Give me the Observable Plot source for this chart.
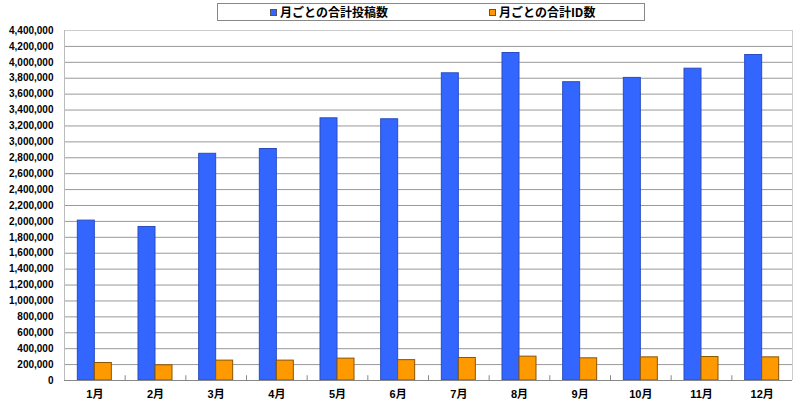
<!DOCTYPE html>
<html><head><meta charset="utf-8">
<script src="https://cdn.jsdelivr.net/npm/d3@7"></script>
<script src="https://cdn.jsdelivr.net/npm/@observablehq/plot@0.6"></script>
<style>
body{margin:0;background:#fff;font-family:"Liberation Sans","Noto Sans CJK JP",sans-serif;}
#wrap{position:relative;width:800px;height:411px;}
#legend{position:absolute;left:217px;top:3px;width:426px;height:16px;border:1px solid #888;background:#fff;font-family:"Noto Sans CJK JP",sans-serif;font-weight:bold;font-size:12px;line-height:16px;}
.item{position:absolute;top:0;display:flex;align-items:center;height:16px;}
.sw{width:7px;height:7px;margin-right:3px;border:1px solid #555;box-sizing:border-box;}
#chart{position:absolute;left:0;top:24px;}
</style></head>
<body><div id="wrap"><div id="legend"></div><div id="chart"></div></div>
<script>
const months = ["1月","2月","3月","4月","5月","6月","7月","8月","9月","10月","11月","12月"];
const posts = [2010000, 1930000, 2850000, 2910000, 3296000, 3284000, 3862000, 4117000, 3750000, 3804000, 3920000, 4092000];
const ids = [220000, 191000, 250000, 250000, 275000, 256000, 283000, 300000, 279000, 291000, 295000, 291000];
const seriesNames = ["月ごとの合計投稿数", "月ごとの合計ID数"];
const colors = ["#3366FF", "#FF9900"];
const strokes = ["#2a4cc0", "#8a5500"];
const yTicks = d3.range(0, 4400001, 200000);

const W = 800, H = 387, ML = 64, MR = 8;
const bw = (W - ML - MR) / months.length;
const barW = 17;
const gap = bw / 2 - barW;

const rowsPosts = months.map((m, i) => ({month: m, value: posts[i]}));
const rowsIds = months.map((m, i) => ({month: m, value: ids[i]}));

const legend = document.getElementById("legend");
[[52, 0], [271, 1]].forEach(([x, i]) => {
  const d = document.createElement("div");
  d.className = "item"; d.style.left = x + "px";
  d.innerHTML = `<span class="sw" style="background:${colors[i]}"></span><span>${seriesNames[i]}</span>`;
  legend.appendChild(d);
});

const chart = Plot.plot({
  width: W, height: H,
  marginLeft: ML, marginRight: MR, marginTop: 6, marginBottom: 31,
  style: {fontFamily: '"Liberation Sans","Noto Sans CJK JP",sans-serif', fontWeight: "bold", color: "#000", background: "#fff"},
  x: {domain: months, padding: 0, round: false, label: null, tickSize: 0, tickPadding: 10, fontSize: 11},
  y: {domain: [0, 4400000], ticks: yTicks, label: null, tickSize: 0, tickPadding: 11, tickFormat: d3.format(",")},
  marks: [
    Plot.ruleY(yTicks.slice(1, -1), {stroke: "#999", strokeWidth: 1}),
    Plot.ruleY([4400000], {stroke: "#ccc"}),
    Plot.ruleX(months.slice(1), {x: d => d, dx: -bw / 2, y1: 0, y2: 60000, stroke: "#888"}),
    Plot.barY(rowsPosts, {x: "month", y: "value", fill: colors[0], stroke: strokes[0], strokeWidth: 1, insetLeft: gap, insetRight: bw / 2}),
    Plot.barY(rowsIds, {x: "month", y: "value", fill: colors[1], stroke: strokes[1], strokeWidth: 1, insetLeft: bw / 2, insetRight: gap}),
    Plot.ruleX([months[0]], {dx: -bw / 2, stroke: "#bbb"}),
    Plot.ruleX([months[months.length - 1]], {dx: bw / 2, stroke: "#ccc"}),
    Plot.ruleY([0], {stroke: "#888"}),
    Plot.axisX({tickSize: 0, tickPadding: 10, fontSize: 11, label: null}),
    Plot.axisY({ticks: yTicks, tickSize: 0, tickPadding: 11, fontSize: 10, label: null, tickFormat: d3.format(",")})
  ]
});
document.getElementById("chart").appendChild(chart);
</script></body></html>
